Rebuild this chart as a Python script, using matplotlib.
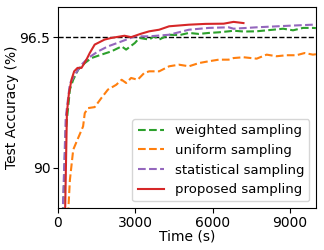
import matplotlib.pyplot as plt
import numpy as np

# time (s) and test accuracy (%)
t_weighted = [150, 300, 462, 590, 781, 1038, 1296, 1681, 2065, 2468, 2642, 2981, 3154,
              3538, 3731, 3923, 4308, 4700, 5077, 5460, 5846, 6230, 6615, 6808, 7200,
              7692, 8346, 8731, 9115, 9500, 9885, 10000]
acc_weighted = [86.0, 91.8, 93.9, 94.38, 94.88, 95.21, 95.46, 95.63, 95.79, 96.04, 95.88,
                96.21, 96.46, 96.38, 96.54, 96.38, 96.62, 96.6, 96.71, 96.66, 96.71, 96.74,
                96.79, 96.82, 96.78, 96.79, 96.87, 96.92, 96.84, 96.96, 96.96, 96.95]

t_uniform = [320, 462, 590, 781, 973, 1038, 1167, 1423, 1681, 1935, 2258, 2468, 2642,
             2835, 3089, 3346, 3538, 3923, 4308, 4692, 5077, 5462, 5846, 6231, 6615,
             6808, 7192, 7704, 8090, 8474, 8859, 9244, 9565, 9885, 10000]
acc_uniform = [86.0, 89.4, 90.9, 91.48, 92.06, 92.72, 92.97, 93.02, 93.47, 93.89, 94.13,
               94.38, 94.22, 94.47, 94.38, 94.72, 94.8, 94.8, 95.05, 95.13, 95.05, 95.21,
               95.3, 95.38, 95.38, 95.46, 95.5, 95.43, 95.63, 95.55, 95.6, 95.6, 95.71,
               95.63, 95.65]

t_statistical = [140, 300, 462, 654, 911, 1167, 1551, 1935, 2468, 2981, 3154, 3538,
                 4308, 5077, 5846, 6615, 6808, 7704, 8988, 9885, 10000]
acc_statistical = [86.0, 92.5, 94.2, 94.63, 95.13, 95.46, 95.79, 96.04, 96.29, 96.54,
                   96.54, 96.54, 96.62, 96.87, 96.96, 96.99, 96.92, 96.99, 97.07, 97.12,
                   97.12]

t_proposed = [250, 346, 423, 527, 627, 757, 911, 1103, 1231, 1423, 1808, 2065, 2577,
              2835, 3219, 3538, 3923, 4308, 5077, 5719, 6423, 6808, 7192]
acc_proposed = [86.0, 92.74, 93.7, 94.4, 94.8, 94.97, 94.97, 95.38, 95.71, 96.13, 96.38,
                96.46, 96.57, 96.5, 96.67, 96.79, 96.87, 97.04, 97.12, 97.16, 97.17,
                97.26, 97.2]

target = 96.5

fig, ax = plt.subplots(figsize=(3.24, 2.5), dpi=100)
fig.subplots_adjust(left=0.179, right=0.975, bottom=0.168, top=0.972)

ax.axhline(target, color='black', linestyle='--', linewidth=1)
ax.plot(t_weighted, acc_weighted, '--', color='tab:green', linewidth=1.5, label='weighted sampling')
ax.plot(t_uniform, acc_uniform, '--', color='tab:orange', linewidth=1.5, label='uniform sampling')
ax.plot(t_statistical, acc_statistical, '--', color='tab:purple', linewidth=1.5, label='statistical sampling')
ax.plot(t_proposed, acc_proposed, '-', color='tab:red', linewidth=1.5, label='proposed sampling')

ax.set_xlim(0, 10000)
ax.set_ylim(88, 98)
ax.set_xticks([0, 3000, 6000, 9000])
ax.set_yticks([90, 96.5])
ax.set_yticklabels(['90', '96.5'])
ax.tick_params(labelsize=10, pad=2)
ax.set_xlabel('Time (s)', fontsize=10, labelpad=0)
ax.set_ylabel('Test Accuracy (%)', fontsize=10, labelpad=0)
ax.legend(loc='lower right', fontsize=9.5)

plt.savefig('out.png')
